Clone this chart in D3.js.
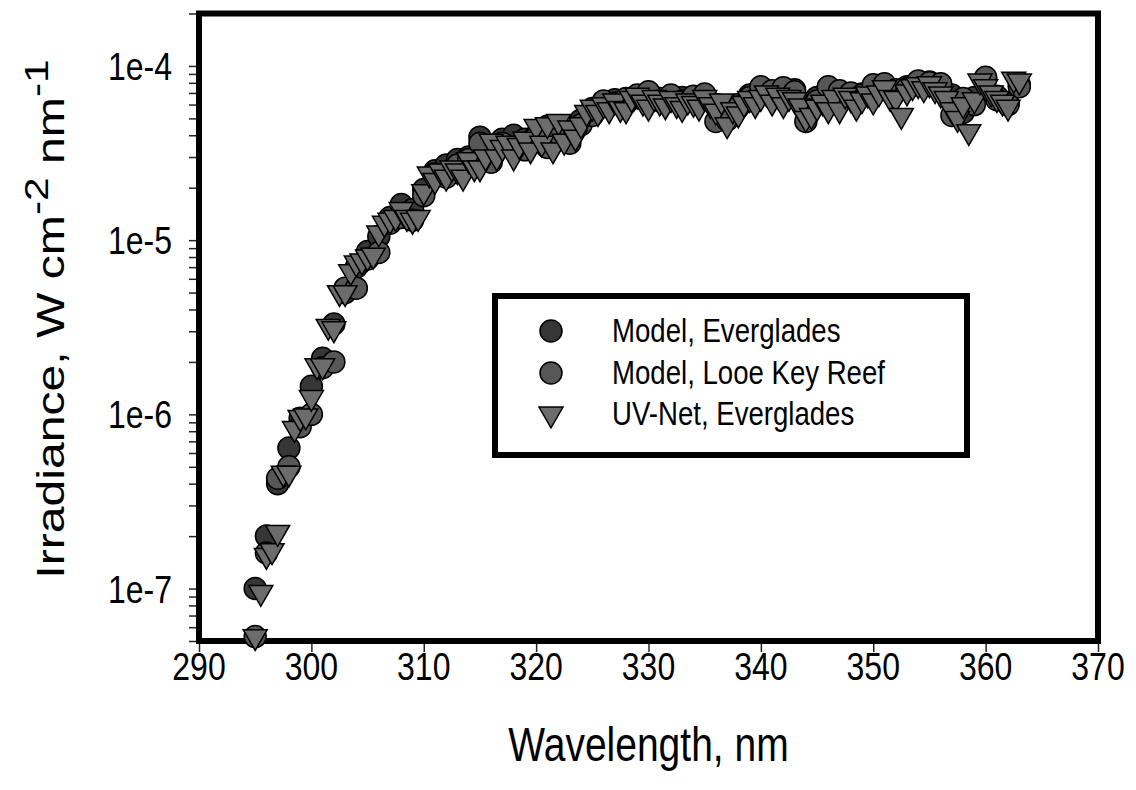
<!DOCTYPE html>
<html><head><meta charset="utf-8">
<script src="https://cdn.jsdelivr.net/npm/d3@7"></script>
<style>body{margin:0;background:#fff}svg{display:block;font-family:Arial,"Liberation Sans",sans-serif}</style>
</head><body><svg id="c" width="1136" height="790"></svg>
<script>
// ---- data ----
const modelWavelengths = d3.range(295, 364, 1);
const evergladesModel = [1.0e-7,2.0e-7,4.0e-7,6.4e-7,9.5e-7,1.45e-6,2.1e-6,3.3e-6,5.0e-6,7.0e-6,
 8.6e-6,1.05e-5,1.35e-5,1.6e-5,1.5e-5,1.95e-5,2.5e-5,2.7e-5,2.9e-5,3.0e-5,
 3.9e-5,3.5e-5,3.8e-5,4.0e-5,3.8e-5,4.0e-5,4.5e-5,4.5e-5,4.2e-5,4.9e-5,
 5.7e-5,6.2e-5,6.4e-5,6.1e-5,6.6e-5,7.0e-5,6.5e-5,6.6e-5,6.6e-5,6.4e-5,
 6.5e-5,6.0e-5,5.2e-5,6.0e-5,6.8e-5,7.4e-5,7.0e-5,7.3e-5,7.3e-5,6.0e-5,
 6.6e-5,7.5e-5,7.0e-5,6.7e-5,6.9e-5,7.6e-5,7.7e-5,7.1e-5,7.6e-5,8.1e-5,
 8.1e-5,7.8e-5,6.8e-5,5.4e-5,6.6e-5,8.4e-5,6.7e-5,6.1e-5,7.8e-5];
const looeKeyModel = [5.3e-8,1.6e-7,4.3e-7,5.0e-7,8.5e-7,1.0e-6,1.85e-6,2.0e-6,5.3e-6,5.3e-6,
 7.8e-6,8.5e-6,1.25e-5,1.35e-5,1.3e-5,1.8e-5,2.4e-5,2.3e-5,2.7e-5,2.9e-5,
 3.6e-5,2.8e-5,3.6e-5,3.4e-5,3.3e-5,3.9e-5,3.4e-5,4.1e-5,3.6e-5,4.6e-5,
 5.2e-5,6.3e-5,6.1e-5,6.5e-5,6.8e-5,7.1e-5,6.3e-5,6.8e-5,6.3e-5,6.7e-5,
 6.9e-5,4.8e-5,4.9e-5,5.8e-5,6.6e-5,7.6e-5,7.2e-5,7.5e-5,7.1e-5,4.8e-5,
 6.3e-5,7.6e-5,7.2e-5,7.0e-5,6.8e-5,7.8e-5,7.9e-5,7.3e-5,7.4e-5,8.2e-5,
 8.0e-5,7.9e-5,5.2e-5,6.5e-5,6.0e-5,8.6e-5,6.4e-5,6.0e-5,7.6e-5];
const uvNetWavelengths = d3.range(295, 363.01, 0.5);
const uvNetEverglades = [5.3e-8,9.5e-8,1.55e-7,1.65e-7,2.1e-7,4.6e-7,4.6e-7,8.3e-7,9.6e-7,9.8e-7,
 1.25e-6,1.9e-6,1.9e-6,3.2e-6,3.1e-6,5.0e-6,5.0e-6,6.6e-6,7.4e-6,7.6e-6,
 8.0e-6,8.2e-6,1.1e-5,1.25e-5,1.3e-5,1.35e-5,1.5e-5,1.35e-5,1.3e-5,1.35e-5,
 1.9e-5,2.4e-5,2.2e-5,2.5e-5,2.3e-5,2.6e-5,2.5e-5,2.3e-5,2.9e-5,2.6e-5,
 2.6e-5,3.0e-5,3.7e-5,3.0e-5,3.4e-5,3.6e-5,3.0e-5,3.5e-5,3.8e-5,3.3e-5,
 4.5e-5,3.6e-5,4.6e-5,3.3e-5,4.8e-5,3.7e-5,4.4e-5,3.9e-5,4.6e-5,5.4e-5,
 5.8e-5,5.4e-5,6.0e-5,5.6e-5,6.3e-5,5.7e-5,5.6e-5,6.5e-5,6.8e-5,6.2e-5,
 5.8e-5,6.6e-5,6.2e-5,5.9e-5,6.5e-5,6.0e-5,5.7e-5,6.3e-5,6.1e-5,5.8e-5,
 6.6e-5,6.0e-5,5.5e-5,6.3e-5,4.6e-5,5.6e-5,5.3e-5,6.1e-5,6.5e-5,6.0e-5,
 6.6e-5,7.0e-5,6.2e-5,6.8e-5,6.0e-5,6.6e-5,6.4e-5,5.9e-5,5.0e-5,5.2e-5,
 5.8e-5,6.2e-5,5.6e-5,6.6e-5,5.6e-5,6.8e-5,6.5e-5,5.8e-5,6.4e-5,6.9e-5,
 6.3e-5,7.0e-5,7.5e-5,6.6e-5,6.5e-5,5.2e-5,7.1e-5,7.6e-5,7.8e-5,7.4e-5,
 7.9e-5,7.3e-5,6.9e-5,6.5e-5,5.6e-5,5.0e-5,6.0e-5,4.2e-5,6.4e-5,8.2e-5,
 7.6e-5,7.0e-5,6.5e-5,6.2e-5,5.8e-5,8.4e-5,8.2e-5];
const xTicks = [290,300,310,320,330,340,350,360,370];
const yMajorTicks = [1e-7,1e-6,1e-5,1e-4];
const yTickLabels = ["1e-7","1e-6","1e-5","1e-4"];
const seriesNames = ["Model, Everglades","Model, Looe Key Reef","UV-Net, Everglades"];
const seriesColors = ["#363636","#575757","#6c6c6c"];

// ---- chart ----
const svg = d3.select("#c");
const L = 199, R = 1098, T = 13.5, B = 641;
const SY = 1.22; // vertical stretch of text in the reference
const x = d3.scaleLinear().domain([290,370]).range([L,R]);
const y = d3.scaleLog().domain([5e-8,2e-4]).range([B,T]);

// y ticks (major + minor)
const yAll = [];
for (let e = -8; e <= -4; e++) for (let m = 1; m <= 9; m++) { const v = m*Math.pow(10,e); if (v >= 5e-8*0.999 && v <= 2e-4*1.001) yAll.push(v); }
const gy = svg.append("g").attr("transform",`translate(${L},0)`)
  .call(d3.axisLeft(y).tickValues(yAll).tickSize(10).tickFormat(""));
gy.select(".domain").remove();
gy.selectAll("line").attr("stroke","#222").attr("stroke-width",1.5);
svg.append("g").selectAll("text").data(yMajorTicks).join("text")
  .attr("transform",(d)=>`translate(172,${y(d)+14}) scale(1,${SY})`)
  .attr("text-anchor","end").attr("font-size",32).text((d,i)=>yTickLabels[i]);

const gx = svg.append("g").attr("transform",`translate(0,${B})`)
  .call(d3.axisBottom(x).tickValues(xTicks).tickSize(11).tickFormat(""));
gx.select(".domain").remove();
gx.selectAll("line").attr("stroke","#222").attr("stroke-width",1.5);
svg.append("g").selectAll("text").data(xTicks).join("text")
  .attr("transform",d=>`translate(${x(d)},680) scale(1,${SY})`)
  .attr("text-anchor","middle").attr("font-size",32).text(d=>d3.format("d")(d));

// plot frame
svg.append("rect").attr("x",L).attr("y",T).attr("width",R-L).attr("height",B-T)
  .attr("fill","none").attr("stroke","#000").attr("stroke-width",6);

// clip
svg.append("clipPath").attr("id","clip").append("rect").attr("x",L).attr("y",T-12).attr("width",R-L).attr("height",B-T+24);
const plot = svg.append("g").attr("clip-path","url(#clip)");

const tri = d3.symbol().type(d3.symbolTriangle).size(250);
function drawCircles(ws, vs, color){
  plot.append("g").selectAll("circle").data(ws.map((w,i)=>[w,vs[i]])).join("circle")
    .attr("cx",d=>x(d[0])).attr("cy",d=>y(d[1])).attr("r",11)
    .attr("fill",color).attr("stroke","#000").attr("stroke-width",1.5);
}
drawCircles(modelWavelengths, evergladesModel, seriesColors[0]);
drawCircles(modelWavelengths, looeKeyModel, seriesColors[1]);
plot.append("g").selectAll("path").data(uvNetWavelengths.map((w,i)=>[w,uvNetEverglades[i]])).join("path")
  .attr("d",tri).attr("transform",d=>`translate(${x(d[0])},${y(d[1])}) rotate(180)`)
  .attr("fill",seriesColors[2]).attr("stroke","#000").attr("stroke-width",1.5);

// legend
const lg = svg.append("g");
lg.append("rect").attr("x",495).attr("y",296).attr("width",472).attr("height",159)
  .attr("fill","#fff").attr("stroke","#000").attr("stroke-width",6);
const rowsY = [331,373,414];
seriesNames.forEach((n,i)=>{
  if (i < 2) lg.append("circle").attr("cx",551).attr("cy",rowsY[i]).attr("r",11).attr("fill",seriesColors[i]).attr("stroke","#000").attr("stroke-width",1.5);
  else lg.append("path").attr("d",tri).attr("transform",`translate(551,${rowsY[i]}) rotate(180)`).attr("fill",seriesColors[i]).attr("stroke","#000").attr("stroke-width",1.5);
  lg.append("text").attr("transform",`translate(612,${rowsY[i]+11}) scale(1,1.2)`).attr("font-size",27.6).text(n);
});

// axis titles
svg.append("text").attr("transform",`translate(${(L+R)/2},761) scale(1,${SY})`).attr("text-anchor","middle").attr("font-size",39).text("Wavelength, nm");
const yt = svg.append("text").attr("transform",`translate(64,319) rotate(-90) scale(1.25,1)`).attr("text-anchor","middle").attr("font-size",38.5);
yt.append("tspan").text("Irradiance, W cm");
yt.append("tspan").attr("dy",-16).attr("font-size",34).text("-2");
yt.append("tspan").attr("dy",16).text(" nm");
yt.append("tspan").attr("dy",-16).attr("font-size",34).text("-1");
</script></body></html>
